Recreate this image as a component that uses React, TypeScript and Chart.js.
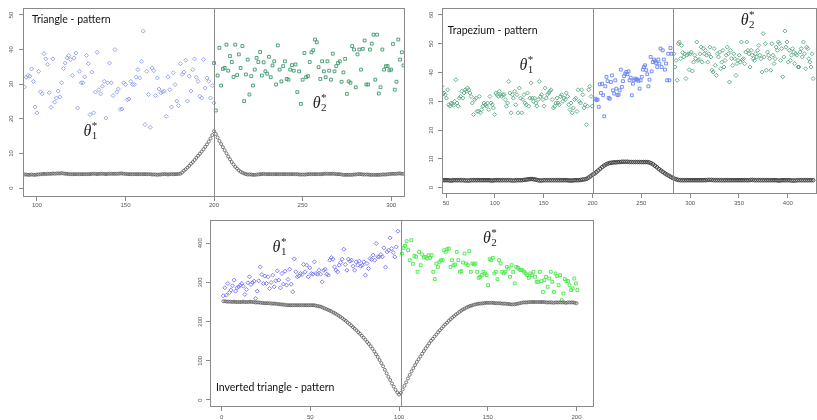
import React, { useEffect, useRef } from 'react';
import { Chart, registerables } from 'chart.js';
Chart.register(...registerables);

// ---------------- Panel 1: Triangle pattern ----------------
const P1_X_TICKS = [100, 150, 200, 250, 300];
const P1_Y_TICKS = [0, 10, 20, 30, 40, 50];
const P1_VLINES = [200];
const P1_BLACK_X0 = 92;
const P1_BLACK = [
  3.9, 3.9, 3.9, 3.8, 3.8, 3.9, 3.8, 3.8, 3.9, 3.9,
  4.0, 4.0, 4.1, 4.0, 4.1, 4.1, 4.1, 4.2, 4.1, 4.2,
  4.2, 4.2, 4.3, 4.2, 4.1, 4.1, 4.0, 4.0, 4.0, 4.0,
  4.0, 4.0, 4.0, 4.0, 4.0, 4.0, 4.0, 4.0, 4.0, 4.1,
  4.1, 4.1, 4.0, 4.1, 4.1, 4.1, 4.1, 4.0, 4.1, 4.1,
  4.1, 4.1, 4.1, 4.1, 4.1, 4.2, 4.2, 4.1, 4.1, 4.0,
  4.0, 4.0, 4.0, 4.0, 4.0, 4.0, 4.0, 4.0, 4.0, 4.0,
  4.0, 4.0, 4.0, 3.9, 3.9, 3.9, 3.8, 3.9, 3.9, 4.0,
  4.0, 4.0, 3.9, 4.0, 4.0, 4.0, 4.0, 4.0, 4.1,
  4.1, 4.5, 5.0, 5.4, 5.9, 6.4, 7.0, 7.5, 8.1, 8.7, 9.3, 9.9, 10.5, 11.2, 11.9, 12.6, 13.4, 14.3, 15.3, 16.4,
  15.6, 14.6, 13.6, 12.7, 11.8, 10.9, 10.0, 9.1, 8.3, 7.5, 6.8, 6.1, 5.6, 5.1, 4.7, 4.4, 4.2, 4.0, 3.9, 3.9,
  3.9, 3.8, 3.8, 3.9, 3.9, 4.0, 4.0, 4.1, 4.0, 4.0,
  4.0, 4.0, 4.0, 4.0, 4.0, 4.0, 4.0, 4.0, 4.0, 4.0,
  4.0, 4.0, 4.0, 4.0, 4.0, 4.0, 4.0, 3.9, 3.9, 3.9,
  3.9, 3.9, 4.0, 4.0, 4.0, 4.0, 4.0, 4.0, 4.0, 4.0,
  4.0, 4.1, 4.1, 4.1, 4.1, 4.1, 4.1, 4.1, 4.0, 4.0,
  4.0, 3.9, 3.8, 3.8, 3.8, 3.8, 3.8, 3.8, 3.9, 3.9,
  4.0, 4.0, 4.0, 3.9, 3.9, 3.9, 3.9, 3.8, 3.8, 3.8,
  3.8, 3.8, 3.8, 3.8, 3.9, 3.9, 3.9, 4.0, 4.0, 4.1,
  4.1, 4.1, 4.1, 4.2, 4.2, 4.1, 4.1,
];
const P1_BLUE_X0 = 93;
const P1_BLUE = [
  29.2, 32.0, 32.5, 32.3, 34.4, 30.8, 23.4, 21.7, 33.7, 27.8,
  27.2, 38.8, 37.3, 35.7, 27.5, 23.3, 37.3, 24.8, 26.0, 28.0,
  26.3, 30.4, 34.5, 36.1, 37.6, 38.3, 37.1, 32.5, 37.6, 39.0,
  23.1, 33.7, 30.4, 30.4, 32.1, 38.3, 35.9, 21.2, 33.5, 21.7,
  27.7, 39.2, 28.4, 27.2, 29.4, 30.8, 20.2, 30.4, 36.1, 30.4,
  26.7, 40.0, 27.7, 28.6, 22.7, 22.8, 30.4, 29.9, 25.5, 25.7,
  30.8, 29.9, 29.9, 32.0, 34.2, 31.8, 36.6, 45.3, 18.3, 33.7,
  27.0, 17.5, 34.7, 33.9, 26.7, 31.8, 28.6, 27.5, 27.8, 28.0,
  20.7, 32.1, 28.4, 23.4, 33.3, 29.9, 25.1, 23.8, 35.9, 32.8,
  33.5, 36.9, 25.1, 32.3, 28.0, 34.2, 37.3, 32.0, 30.8, 26.5,
  26.0, 37.1, 28.9, 31.8, 30.8, 26.0, 29.6, 24.6,
];
const P1_GREEN_X0 = 200;
const P1_GREEN = [
  36.1, 22.4, 32.5, 40.5, 29.6, 34.4, 34.7, 41.4, 33.9,
  38.1, 36.4, 32.1, 41.4, 32.6, 38.6, 34.7, 41.0, 25.1, 32.8,
  37.1, 27.0, 32.3, 29.6, 34.2, 37.6, 36.4, 39.3, 32.5, 36.3,
  33.7, 33.0, 37.9, 32.0, 35.4, 36.6, 29.9, 41.2, 34.2,
  30.8, 35.2, 36.6, 31.5, 31.3, 34.2, 35.5, 33.9, 35.7, 27.7,
  33.7, 24.3, 31.3, 39.0, 32.0, 32.3, 36.4, 39.2, 39.8,
  42.9, 42.1, 34.9, 31.5, 36.6, 33.7, 32.0, 36.6, 33.9, 31.3,
  38.8, 33.7, 35.2, 36.1, 36.6, 30.7, 33.4, 37.3, 27.2, 30.8,
  30.4, 41.0, 40.0, 29.1, 38.6, 40.0, 34.2, 40.2, 42.6, 29.9,
  29.9, 40.0, 41.7, 44.3, 31.3, 44.3, 27.3, 29.1, 40.0, 34.2,
  35.2, 35.2, 34.0, 34.2, 41.6, 28.4, 30.7, 42.9, 37.1, 39.2,
  35.4,
];

// ---------------- Panel 2: Trapezium pattern ----------------
const P2_X_TICKS = [50, 100, 150, 200, 250, 300, 350, 400];
const P2_Y_TICKS = [0, 10, 20, 30, 40, 50, 60];
const P2_VLINES = [201, 282];
const P2_BLACK_X0 = 46;
const P2_BLACK_STEP = 2;
const P2_BLACK = [
  2.6, 2.6, 2.6, 2.6, 2.5, 2.5, 2.6, 2.6, 2.6, 2.6,
  2.6, 2.6, 2.5, 2.5, 2.5, 2.6, 2.6, 2.6, 2.6, 2.6,
  2.6, 2.6, 2.6, 2.6, 2.6, 2.5, 2.5, 2.6, 2.6, 2.6,
  2.6, 2.6, 2.6, 2.6, 2.6, 2.6, 2.5, 2.5, 2.6, 2.6,
  2.6, 2.6, 2.7, 2.8, 2.9, 3.0, 3.0, 2.9, 2.8, 2.6,
  2.5, 2.5, 2.6, 2.6, 2.6, 2.6, 2.6, 2.6, 2.6, 2.6,
  2.6, 2.6, 2.6, 2.6, 2.6, 2.5, 2.5, 2.5, 2.6, 2.6, 2.6, 2.7, 2.8,
  2.9, 3.1, 3.5, 4.0, 4.5, 4.9, 5.4, 6.0, 6.6, 7.2, 7.7, 8.1, 8.4, 8.6, 8.7, 8.8,
  8.8, 8.9, 8.9, 9.0, 9.0, 9.0, 9.0, 8.9, 8.9, 8.9, 8.9, 8.9, 8.9, 8.9, 8.9, 8.9, 8.9,
  8.8, 8.5, 8.1, 7.6, 7.1, 6.5, 6.0, 5.5, 5.0, 4.6, 4.2, 3.8, 3.4, 3.1, 2.9, 2.7, 2.6,
  2.6, 2.6, 2.6, 2.6, 2.6, 2.6, 2.6, 2.6, 2.6, 2.6,
  2.6, 2.6, 2.6, 2.7, 2.7, 2.7, 2.6, 2.6, 2.6, 2.6,
  2.6, 2.6, 2.6, 2.6, 2.6, 2.6, 2.6, 2.6, 2.6, 2.6,
  2.6, 2.6, 2.6, 2.6, 2.6, 2.7, 2.7, 2.6, 2.6, 2.6,
  2.6, 2.6, 2.6, 2.6, 2.6, 2.6, 2.6, 2.6, 2.6, 2.5,
  2.5, 2.6, 2.6, 2.6, 2.6, 2.6, 2.5, 2.5, 2.5, 2.6,
  2.6, 2.6, 2.6, 2.6, 2.6, 2.6, 2.6, 2.6,
];
const P2_GREEN_L_X0 = 45.6;
const P2_GREEN_L_STEP = 1.204;
const P2_GREEN_L = [
  35.2, 32.5, 32.9, 32.3, 31.1, 34.0, 28.8, 28.3, 29.4, 29.1,
  28.6, 30.0, 37.5, 29.4, 28.3, 31.1, 31.7, 33.5, 31.1, 32.9,
  34.0, 33.5, 34.6, 34.0, 32.9, 31.7, 29.4, 25.4, 30.6, 31.1,
  26.5, 26.5, 31.7, 26.0, 27.1, 28.3, 29.4, 28.8, 28.3, 29.4,
  27.1, 31.7, 29.4, 28.8, 27.7, 25.4, 32.9, 32.3, 31.7, 33.5,
  32.3, 31.7, 32.3, 32.3, 30.6, 28.3, 29.4, 36.9, 32.9, 26.0,
  32.3, 31.1, 33.5, 28.8, 32.3, 26.0, 34.6, 31.1, 26.0, 30.6,
  32.3, 29.4, 28.8, 32.9, 28.3, 31.1, 36.4, 31.1, 30.0, 31.1,
  29.4, 28.3, 30.6, 36.9, 31.7, 32.3, 30.6, 28.3, 34.6, 31.1,
  32.3, 32.9, 33.5, 34.0, 30.6, 27.7, 28.3, 29.4, 31.1, 29.4,
  28.8, 31.7, 32.3, 30.0, 31.1, 30.6, 32.9, 31.7, 28.8, 27.1,
  29.4, 26.0, 27.7, 30.6, 31.1, 26.5, 34.0, 30.0, 29.4, 34.0,
  32.3, 27.7, 28.8, 21.9, 28.3, 34.0, 35.2, 31.7, 28.3,
];
const P2_BLUE_X0 = 203;
const P2_BLUE_STEP = 1.13;
const P2_BLUE = [
  30.9, 30.4, 30.6, 28.1, 35.9, 32.9, 36.1, 32.1, 24.8, 35.2,
  38.5, 37.0, 31.2, 30.9, 36.7, 39.0, 33.8, 32.7, 37.3, 34.4,
  32.1, 32.3, 33.8, 41.0, 35.0, 37.0, 38.7, 39.6, 40.2, 39.4,
  40.4, 37.3, 38.2, 32.1, 36.1, 37.3, 37.9, 37.6, 37.6, 37.1,
  34.4, 37.3, 38.5, 41.0, 41.9, 42.5, 40.8, 39.4, 35.2, 37.5,
  45.4, 40.4, 43.6, 44.5, 43.9, 43.3, 41.9, 44.5, 43.1, 48.3,
  41.9, 47.7, 44.5, 41.0, 43.1, 37.3, 46.5, 37.3, 48.5, 46.5,
];
const P2_GREEN_R_X0 = 283.4;
const P2_GREEN_R_STEP = 1.114;
const P2_GREEN_R = [
  46.5, 41.9, 44.2, 37.3, 50.0, 50.6, 44.8, 49.4, 46.9, 45.4,
  46.5, 37.9, 46.0, 46.5, 41.0, 46.5, 47.1, 40.5, 43.6, 46.0,
  44.8, 50.6, 44.2, 44.5, 46.5, 48.8, 43.6, 48.3, 46.5, 47.7,
  46.0, 43.6, 46.5, 48.8, 45.4, 40.8, 40.2, 48.3, 42.5, 39.0,
  46.5, 45.4, 47.1, 41.3, 43.6, 47.7, 41.9, 44.2, 46.0, 48.8,
  46.5, 36.7, 47.7, 44.8, 42.5, 46.5, 44.8, 39.0, 43.1, 44.2,
  46.0, 43.6, 50.6, 44.5, 44.8, 43.1, 47.1, 50.6, 47.7, 46.5,
  41.9, 47.7, 46.0, 44.8, 44.2, 46.5, 45.4, 47.7, 49.4, 46.0,
  44.8, 40.2, 53.5, 45.4, 50.0, 40.8, 47.1, 46.0, 44.8, 40.8,
  50.0, 46.0, 43.1, 44.8, 48.8, 47.7, 50.6, 50.0, 44.2, 48.3,
  38.5, 45.4, 54.4, 48.8, 50.6, 43.6, 47.7, 44.2, 46.0, 48.3,
  47.1, 43.1, 46.5, 46.0, 41.9, 41.9, 47.1, 48.3, 45.4, 50.6,
  46.5, 41.3, 48.8, 48.3, 44.8, 43.6, 41.9, 46.5, 37.9,
];

// ---------------- Panel 3: Inverted triangle pattern ----------------
const P3_X_TICKS = [0, 50, 100, 150, 200];
const P3_Y_TICKS = [0, 100, 200, 300, 400];
const P3_VLINES = [101];
const P3_BLACK_X0 = 1;
const P3_BLACK = [
  252, 252, 251, 251, 251, 250, 251, 250, 250, 250, 250, 251, 250, 250, 250, 251, 250, 250, 249, 249,
  249, 248, 248, 247, 247, 247, 247, 246, 246, 246, 245, 245, 244, 244, 243, 243, 242, 242, 242, 242,
  242, 242, 242, 242, 242, 242, 242, 242, 242, 242, 242, 242, 241, 240, 239, 238,
  236, 234, 232, 230, 228, 226, 223, 221, 218, 215, 212, 209, 205, 202, 198, 194, 190, 186, 182, 178,
  173, 169, 164, 159, 154, 148, 143, 137, 131, 124, 117, 110, 102, 94, 86, 77, 68, 59, 51, 42,
  34, 26, 19, 14,
  18, 27, 36, 45, 55, 64, 73, 81, 89, 97, 104, 111, 118, 125, 132, 138, 145, 151, 156, 162,
  167, 173, 178, 183, 188, 193, 197, 202, 206, 210, 214, 218, 221, 225, 228, 231, 233, 236, 238, 240,
  241, 243, 244, 245, 246, 246, 247, 247, 248, 248,
  248, 248, 248, 247, 247, 247, 247, 246, 246, 246, 245, 245, 244, 244, 244, 245, 246, 247, 248, 249,
  249, 249, 250, 250, 250, 250, 250, 250, 250, 250, 250, 250, 249, 249, 249, 249, 248, 249, 249, 249,
  249, 249, 249, 248, 249, 249, 249, 249, 248, 247,
];
const P3_BLUE_X0 = 0.9;
const P3_BLUE_STEP = 0.871;
const P3_BLUE = [
  265.9, 286.3, 267.6, 297.4, 274.4, 280.4, 291.4, 305.9, 277.8, 286.3,
  288.9, 293.1, 297.4, 290.6, 269.3, 282.1, 299.1, 314.4, 294.8, 299.9,
  303.3, 259.1, 277.8, 304.2, 339.8, 320.3, 297.4, 316.1, 297.4, 314.4,
  284.6, 299.9, 318.6, 288.9, 304.2, 329.6, 305.9, 286.3, 322.9, 295.7,
  328.8, 293.1, 307.6, 333.9, 295.7, 276.1, 360.2, 327.1, 314.4, 316.9,
  322.9, 320.3, 345.8, 327.1, 344.1, 314.4, 337.3, 322.9, 321.2, 352.6,
  322.9, 321.2, 331.3, 321.2, 301.6, 331.3, 333.9, 321.2, 318.6, 356.8,
  363.6, 359.4, 339.8, 331.3, 327.1, 344.1, 350.9, 359.4, 384.9, 345.8,
  331.3, 359.4, 354.3, 356.8, 341.5, 331.3, 352.6, 344.1, 354.3, 341.5,
  344.1, 352.6, 318.6, 348.3, 335.6, 361.1, 358.5, 369.6, 356.8, 399.3,
  365.3, 365.3, 371.3, 365.3, 388.3, 339.0, 378.1, 382.3, 413.8, 386.6,
  376.4, 365.3, 390.8, 430.8,
];
const P3_GREEN_X0 = 101.6;
const P3_GREEN_STEP = 0.883;
const P3_GREEN = [
  373.8, 388.3, 393.4, 405.3, 382.3, 356.8, 407.8, 347.5, 367.9, 365.3,
  327.1, 378.1, 344.1, 371.3, 363.6, 365.3, 361.1, 369.6, 362.8, 369.6,
  327.1, 308.4, 348.3, 339.8, 352.6, 356.8, 356.8, 382.3, 378.1, 384.9,
  386.6, 339.8, 356.8, 344.1, 345.8, 378.1, 356.8, 327.1, 328.8, 350.9,
  373.8, 348.3, 344.1, 379.8, 327.1, 348.3, 345.8, 348.3, 327.1, 311.8,
  314.4, 318.6, 327.1, 322.9, 318.6, 293.1, 359.4, 356.8, 362.8, 322.9,
  327.1, 308.4, 356.8, 348.3, 327.1, 322.9, 327.1, 339.8, 335.6, 314.4,
  344.1, 327.1, 297.4, 339.8, 337.3, 333.0, 331.3, 331.3, 327.1, 322.9,
  318.6, 311.8, 322.9, 318.6, 327.1, 314.4, 301.6, 301.6, 327.1, 303.3,
  276.1, 305.9, 314.4, 288.9, 310.1, 327.1, 301.6, 276.1, 322.9, 316.1,
  293.1, 318.6, 254.9, 271.9, 308.4, 303.3, 303.3, 293.1, 280.4, 284.6,
  310.1, 297.4, 280.4,
];

// ---------------- Labels ----------------
const P1_TITLE = 'Triangle - pattern';
const P2_TITLE = 'Trapezium - pattern';
const P3_TITLE = 'Inverted triangle - pattern';

const toPts = (x0: number, step: number, ys: number[]) => ys.map((y, i) => ({ x: x0 + i * step, y }));

const TICK_FONT = 'Liberation Sans';
const AXIS_COLOR = '#8a8a8a';

type Series = { data: { x: number; y: number }[]; style: string; color: string; radius: number; bw: number };
type Spec = {
  left: number; top: number; w: number; h: number;
  xMin: number; xMax: number; yMin: number; yMax: number;
  xTicks: number[]; yTicks: number[];
  yW: number; xH: number; yPad: number; xPad: number;
  vlines: number[];
  title: { text: string; x: number; y: number };
  thetas: { sub: string; x: number; y: number }[];
  series: Series[];
};

const blackS = (data: { x: number; y: number }[], r = 1.5, c = '#5a5a5a', bw = 0.8): Series => ({ data, style: 'circle', color: c, radius: r, bw });

const SPECS: Spec[] = [
  {
    left: 0, top: 0, w: 410, h: 212,
    xMin: 92.16, xMax: 307.85, yMin: -2.6, yMax: 52.0,
    xTicks: P1_X_TICKS, yTicks: P1_Y_TICKS,
    yW: 23, xH: 15, yPad: 3.9, xPad: 1,
    vlines: P1_VLINES,
    title: { text: P1_TITLE, x: 97.2, y: 48.6 },
    thetas: [{ sub: '1', x: 126.3, y: 15.0 }, { sub: '2', x: 255.7, y: 23.0 }],
    series: [
      blackS(toPts(P1_BLACK_X0, 1, P1_BLACK)),
      { data: toPts(P1_BLUE_X0, 1, P1_BLUE), style: 'rectRot', color: '#8f9cf4', radius: 2, bw: 0.9 },
      { data: toPts(P1_GREEN_X0, 1, P1_GREEN), style: 'rect', color: '#3f9a6e', radius: 2, bw: 0.9 },
    ],
  },
  {
    left: 412, top: 0, w: 410, h: 212,
    xMin: 45.9, xMax: 429.9, yMin: -2.19, yMax: 62.4,
    xTicks: P2_X_TICKS, yTicks: P2_Y_TICKS,
    yW: 30, xH: 18, yPad: 2.9, xPad: 2,
    vlines: P2_VLINES,
    title: { text: P2_TITLE, x: 51.7, y: 54.4 },
    thetas: [{ sub: '1', x: 125.2, y: 40.9 }, { sub: '2', x: 351.7, y: 56.5 }],
    series: [
      blackS(toPts(P2_BLACK_X0, P2_BLACK_STEP, P2_BLACK), 1.8, '#404040', 1),
      { data: toPts(P2_GREEN_L_X0, P2_GREEN_L_STEP, P2_GREEN_L), style: 'rectRot', color: '#5aa882', radius: 2, bw: 0.9 },
      { data: toPts(P2_BLUE_X0, P2_BLUE_STEP, P2_BLUE), style: 'rect', color: '#6a84f0', radius: 2, bw: 0.9 },
      { data: toPts(P2_GREEN_R_X0, P2_GREEN_R_STEP, P2_GREEN_R), style: 'rectRot', color: '#5aa882', radius: 2, bw: 0.9 },
    ],
  },
  {
    left: 187, top: 212, w: 412, h: 208,
    xMin: -6.54, xMax: 209.9, yMin: -17.9, yMax: 459.4,
    xTicks: P3_X_TICKS, yTicks: P3_Y_TICKS,
    yW: 23, xH: 13, yPad: 1, xPad: 2.5,
    vlines: P3_VLINES,
    title: { text: P3_TITLE, x: -3.2, y: 31.4 },
    thetas: [{ sub: '1', x: 28.7, y: 378.6 }, { sub: '2', x: 147.3, y: 401.5 }],
    series: [
      blackS(toPts(P3_BLACK_X0, 1, P3_BLACK)),
      { data: toPts(P3_BLUE_X0, P3_BLUE_STEP, P3_BLUE), style: 'rectRot', color: '#7373f2', radius: 2, bw: 0.9 },
      { data: toPts(P3_GREEN_X0, P3_GREEN_STEP, P3_GREEN), style: 'rect', color: '#4ae84a', radius: 2, bw: 0.9 },
    ],
  },
];

function makePlugin(spec: Spec) {
  return {
    id: 'decor',
    afterDraw(chart: any) {
      const { ctx, chartArea: a, scales } = chart;
      const xs = scales.x, ys = scales.y;
      ctx.save();
      ctx.strokeStyle = AXIS_COLOR;
      ctx.lineWidth = 1;
      const l = Math.round(a.left) + 0.5, t = Math.round(a.top) + 0.5;
      const r = Math.round(a.right) - 0.5, b = Math.round(a.bottom) - 0.5;
      ctx.strokeRect(l, t, r - l, b - t);
      spec.vlines.forEach((v) => {
        const px = Math.round(xs.getPixelForValue(v)) + 0.5;
        ctx.beginPath();
        ctx.moveTo(px, t);
        ctx.lineTo(px, b);
        ctx.stroke();
      });
      ctx.fillStyle = '#111';
      ctx.textBaseline = 'middle';
      ctx.textAlign = 'left';
      ctx.font = '10.5px Lato';
      ctx.fillText(spec.title.text, xs.getPixelForValue(spec.title.x), ys.getPixelForValue(spec.title.y));
      ctx.textBaseline = 'alphabetic';
      ctx.fillStyle = '#222';
      spec.thetas.forEach((th) => {
        const px = xs.getPixelForValue(th.x);
        const py = ys.getPixelForValue(th.y);
        ctx.font = 'italic 16px "Liberation Serif"';
        ctx.fillText('\u03B8', px, py);
        const w = ctx.measureText('\u03B8').width;
        ctx.font = '11px "Liberation Serif"';
        ctx.fillText(th.sub, px + w + 0.5, py + 3);
        ctx.fillText('*', px + w + 0.5, py - 7);
      });
      ctx.restore();
    },
  };
}

function makeConfig(spec: Spec): any {
  const tickFont = { family: TICK_FONT, size: 6 };
  const grid = { display: true, drawOnChartArea: false, drawTicks: true, tickLength: 4, color: AXIS_COLOR, lineWidth: 1 };
  return {
    type: 'scatter',
    data: {
      datasets: spec.series.map((s) => ({
        data: s.data,
        pointStyle: s.style,
        pointRadius: s.radius,
        pointBorderWidth: s.bw,
        pointBorderColor: s.color,
        pointBackgroundColor: 'rgba(0,0,0,0)',
        showLine: false,
      })),
    },
    options: {
      animation: false,
      responsive: false,
      devicePixelRatio: 1,
      events: [],
      layout: { padding: { left: 0, top: 8, right: 2, bottom: 0 } },
      plugins: { legend: { display: false }, tooltip: { enabled: false } },
      scales: {
        x: {
          type: 'linear', min: spec.xMin, max: spec.xMax,
          afterBuildTicks: (s: any) => { s.ticks = spec.xTicks.map((v) => ({ value: v })); },
          afterFit: (s: any) => { s.height = spec.xH; },
          ticks: { font: tickFont, color: '#555', padding: spec.xPad, minRotation: 0, maxRotation: 0, autoSkip: false },
          grid, border: { display: false },
        },
        y: {
          type: 'linear', min: spec.yMin, max: spec.yMax,
          afterBuildTicks: (s: any) => { s.ticks = spec.yTicks.map((v) => ({ value: v })); },
          afterFit: (s: any) => { s.width = spec.yW; },
          ticks: { font: tickFont, color: '#555', padding: spec.yPad, minRotation: 90, maxRotation: 90, crossAlign: 'center', autoSkip: false },
          grid, border: { display: false },
        },
      },
    },
    plugins: [makePlugin(spec)],
  };
}

function Panel({ spec }: { spec: Spec }) {
  const ref = useRef<HTMLCanvasElement>(null);
  useEffect(() => {
    const chart = new Chart(ref.current as HTMLCanvasElement, makeConfig(spec));
    return () => chart.destroy();
  }, [spec]);
  return (
    <canvas
      ref={ref}
      width={spec.w}
      height={spec.h}
      style={{ position: 'absolute', left: spec.left, top: spec.top, width: spec.w, height: spec.h }}
    />
  );
}

export default function App() {
  return (
    <div style={{ position: 'fixed', left: 0, top: 0, width: 817, height: 420, overflow: 'hidden', background: '#fff' }}>
      {SPECS.map((s, i) => <Panel key={i} spec={s} />)}
    </div>
  );
}
